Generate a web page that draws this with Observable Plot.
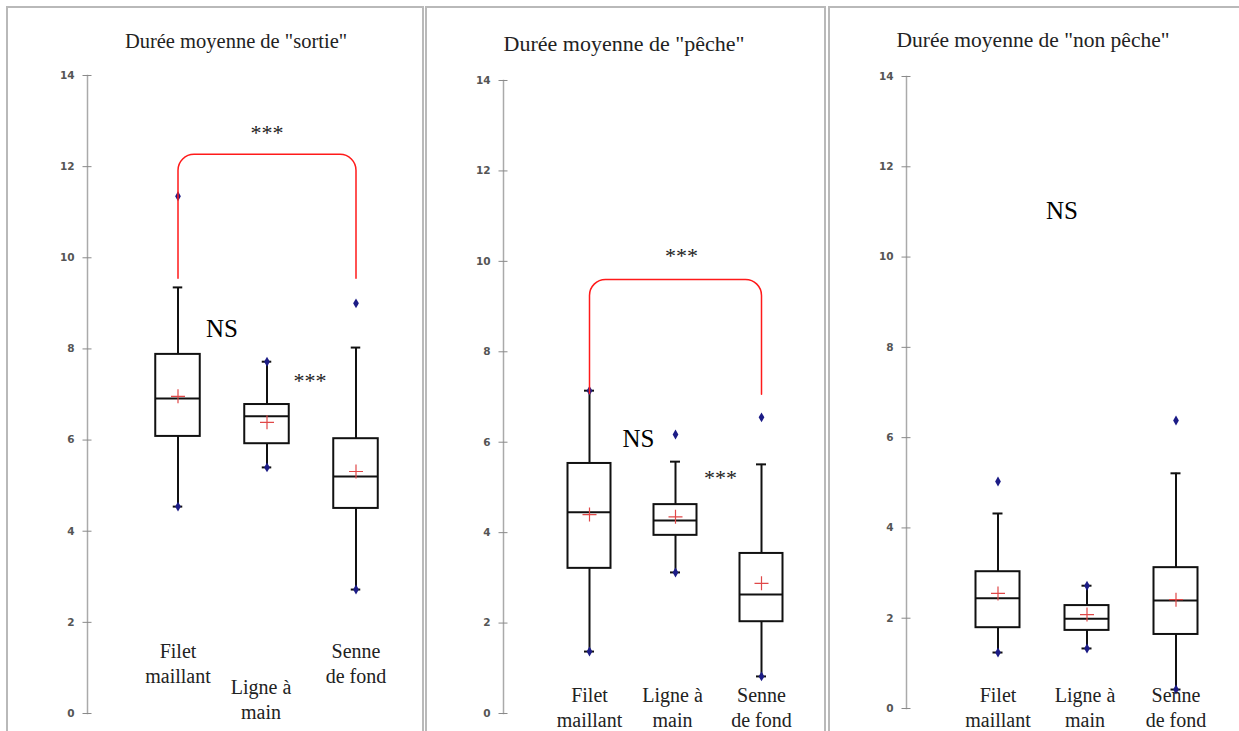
<!DOCTYPE html>
<html><head><meta charset="utf-8">
<script src="https://cdn.jsdelivr.net/npm/d3@7"></script>
<script src="https://cdn.jsdelivr.net/npm/@observablehq/plot@0.6"></script>
<style>
html,body{margin:0;padding:0;background:#fff;}
body{width:1239px;height:731px;overflow:hidden;position:relative;}
.panel{position:absolute;top:6px;height:760px;border:2px solid #b9b9b9;border-bottom:none;box-sizing:border-box;}
.title{position:absolute;font-family:"Liberation Serif","Times New Roman","DejaVu Serif",serif;color:#222;white-space:nowrap;transform:translate(-50%,-50%);}
.chart{position:absolute;top:0;}
.chart svg{max-width:none;background:transparent;}
</style></head><body>
<script>
// ---- data ----
const categories = ["Filet maillant", "Ligne à main", "Senne de fond"];
const categoryLabels = ["Filet\nmaillant", "Ligne à\nmain", "Senne\nde fond"];
const panelTitles = ['Durée moyenne de "sortie"', 'Durée moyenne de "pêche"', 'Durée moyenne de "non pêche"'];
const yTicks = [0, 2, 4, 6, 8, 10, 12, 14];
// one row per panel (sortie, pêche, non pêche), one value per category
const q1 =          [[6.08, 5.92, 4.50], [3.21, 3.94, 2.03], [1.79, 1.73, 1.64]];
const median =      [[6.91, 6.52, 5.20], [4.45, 4.27, 2.63], [2.44, 1.99, 2.39]];
const q3 =          [[7.88, 6.78, 6.03], [5.53, 4.62, 3.54], [3.03, 2.28, 3.12]];
const whiskerLow =  [[4.54, 5.40, 2.72], [1.37, 3.12, 0.82], [1.24, 1.33, 0.42]];
const whiskerHigh = [[9.35, 7.72, 8.03], [7.14, 5.57, 5.51], [4.32, 2.72, 5.21]];
const minimum =     [[4.54, 5.40, 2.72], [1.37, 3.12, 0.82], [1.24, 1.33, 0.42]];
const maximum =     [[11.35, 7.72, 9.00], [7.14, 6.17, 6.55], [5.03, 2.72, 6.38]];
const mean =        [[6.96, 6.39, 5.31], [4.40, 4.35, 2.88], [2.55, 2.08, 2.41]];
// significance bracket: Filet maillant vs Senne de fond
const bracketX = ["Filet maillant", "Filet maillant", "Senne de fond", "Senne de fond"];
const bracketY = [[9.55, 12.27, 12.27, 9.55], [7.08, 9.60, 9.60, 7.06], null];
const bracketText = ["***", "***", null];
const bracketTextY = [12.73, 10.13, null];
// pairwise notes
const noteText = [["NS", "***"], ["NS", "***"], ["NS"]];
const noteCat = [["Filet maillant", "Ligne à main"], ["Ligne à main", "Ligne à main"], ["Ligne à main"]];
const noteY = [[8.43, 7.29], [6.08, 5.20], [11.03]];

// ---- layout (page pixels) ----
const layout = [
  {boxLeft: 6, boxWidth: 418, svgLeft: 9, svgWidth: 412, y14: 75, y0: 713, axisX: 87, c0: 177, step: 89.5, boxW: 45,
   titleX: 236, titleY: 41, titleSize: 20.5, labelDy: [-73, -37, -73], labelDx: [0, -6, 0], noteDx: [44, 43], bracketDx: 0},
  {boxLeft: 425, boxWidth: 401, svgLeft: 428, svgWidth: 395, y14: 80, y0: 713, axisX: 503, c0: 589, step: 86, boxW: 43,
   titleX: 624, titleY: 44, titleSize: 22, labelDy: [-29, -29, -29], labelDx: [0, -3, 0], noteDx: [-37, 45], bracketDx: 6},
  {boxLeft: 828, boxWidth: 420, svgLeft: 831, svgWidth: 408, y14: 76, y0: 708, axisX: 906, c0: 997, step: 89, boxW: 44,
   titleX: 1033, titleY: 40, titleSize: 21.5, labelDy: [-24, -24, -24], labelDx: [0, -2, 0], noteDx: [-25], bracketDx: 0}
];

const thinPlus = {
  draw(ctx, size) {
    const r = Math.sqrt(size / Math.PI);
    ctx.moveTo(-r, 0); ctx.lineTo(r, 0);
    ctx.moveTo(0, -r); ctx.lineTo(0, r);
  }
};
function roundedCorners(radius) {
  return (context) => {
    let pts = [];
    return {
      areaStart() {}, areaEnd() {},
      lineStart() { pts = []; },
      point(x, y) { pts.push([+x, +y]); },
      lineEnd() {
        if (!pts.length) return;
        context.moveTo(pts[0][0], pts[0][1]);
        for (let i = 1; i < pts.length - 1; i++) context.arcTo(pts[i][0], pts[i][1], pts[i + 1][0], pts[i + 1][1], radius);
        const last = pts[pts.length - 1];
        context.lineTo(last[0], last[1]);
      }
    };
  };
}

const H = 731;
const serif = "'Liberation Serif', 'Times New Roman', 'DejaVu Serif', serif";
panelTitles.forEach((title, p) => {
  const L = layout[p];
  const border = document.createElement("div");
  border.className = "panel";
  border.style.left = L.boxLeft + "px";
  border.style.width = L.boxWidth + "px";
  document.body.appendChild(border);

  const t = document.createElement("div");
  t.className = "title";
  t.textContent = title;
  t.style.left = L.titleX + "px";
  t.style.top = L.titleY + "px";
  t.style.fontSize = L.titleSize + "px";
  document.body.appendChild(t);

  const rows = categories.map((c, i) => ({
    cat: c, label: categoryLabels[i], q1: q1[p][i], med: median[p][i], q3: q3[p][i],
    lo: whiskerLow[p][i], hi: whiskerHigh[p][i], mean: mean[p][i]
  }));
  const extremes = categories.flatMap((c, i) => [{cat: c, v: minimum[p][i]}, {cat: c, v: maximum[p][i]}]);
  const boxInset = (L.step - L.boxW) / 2;
  const capInset = (L.step - 10) / 2;
  const x0 = L.c0 - L.step / 2 - L.svgLeft;

  const marks = [
    Plot.frame({anchor: "left", stroke: "#aaaaaa", strokeWidth: 1.5}),
    Plot.axisY({ticks: yTicks, tickSize: 0, tickPadding: 13, label: null, fontSize: 10.5, fontWeight: "bold", fill: "#555", fontFamily: "DejaVu Sans"}),
    Plot.axisY({ticks: yTicks, tickSize: 9, dx: 4.5, label: null, fill: "none", stroke: "#8a8a8a"}),
    Plot.ruleX(rows, {x: "cat", y1: "lo", y2: "hi", stroke: "#111", strokeWidth: 2}),
    Plot.barY(rows, {x: "cat", y1: "q1", y2: "q3", fill: "white", stroke: "#111", strokeWidth: 2, insetLeft: boxInset, insetRight: boxInset}),
    Plot.tickY(rows, {x: "cat", y: "med", stroke: "#111", strokeWidth: 2, insetLeft: boxInset, insetRight: boxInset}),
    Plot.tickY(rows, {x: "cat", y: "lo", stroke: "#111", strokeWidth: 2, insetLeft: capInset, insetRight: capInset}),
    Plot.tickY(rows, {x: "cat", y: "hi", stroke: "#111", strokeWidth: 2, insetLeft: capInset, insetRight: capInset}),
    Plot.dot(extremes, {x: "cat", y: "v", symbol: "diamond", r: 3, fill: "#1c1c86", stroke: "none"}),
    Plot.dot(rows, {x: "cat", y: "mean", symbol: thinPlus, r: 7, stroke: "#e04848", strokeWidth: 1.2, fill: "none"})
  ];
  categories.forEach((c, i) => {
    marks.push(Plot.text([rows[i]], {x: "cat", text: "label", frameAnchor: "bottom", lineAnchor: "top",
      dy: L.labelDy[i], dx: L.labelDx[i], lineHeight: 1.25, fontSize: 20, fontFamily: serif, fill: "#222"}));
  });
  if (bracketY[p]) {
    const pts = bracketX.map((x, i) => ({x, y: bracketY[p][i]}));
    marks.push(Plot.line(pts, {x: "x", y: "y", stroke: "#ff1a1a", strokeWidth: 1.5, curve: roundedCorners(16)}));
    marks.push(Plot.text([{x: "Ligne à main", y: bracketTextY[p], t: bracketText[p]}],
      {x: "x", y: "y", text: "t", dx: L.bracketDx, fontSize: 22, fontFamily: serif, fill: "#222"}));
  }
  noteText[p].forEach((txt, j) => {
    const big = txt === "NS";
    marks.push(Plot.text([{x: noteCat[p][j], y: noteY[p][j], t: txt}],
      {x: "x", y: "y", text: "t", dx: L.noteDx[j], fontSize: big ? 25 : 22, fontFamily: serif, fill: big ? "#000" : "#222"}));
  });

  const chart = Plot.plot({
    width: L.svgWidth,
    height: H,
    marginTop: L.y14,
    marginBottom: H - L.y0,
    marginLeft: L.axisX - L.svgLeft,
    marginRight: 10,
    x: {type: "band", domain: categories, range: [x0, x0 + 3 * L.step], padding: 0, axis: null},
    y: {domain: [0, 14], axis: null, label: null},
    style: {fontFamily: serif, background: "transparent", overflow: "visible"},
    marks
  });
  const holder = document.createElement("div");
  holder.className = "chart";
  holder.style.left = L.svgLeft + "px";
  holder.appendChild(chart);
  document.body.appendChild(holder);
});
</script>
</body></html>
